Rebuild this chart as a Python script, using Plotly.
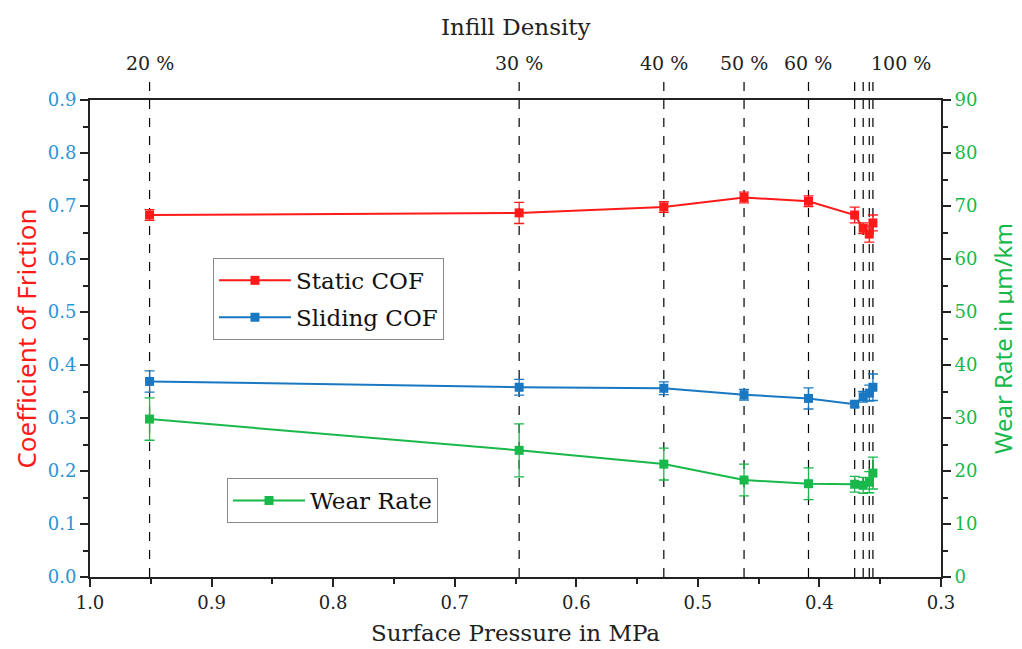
import plotly.graph_objects as go

# Data
density_labels = ["20 %", "30 %", "40 %", "50 %", "60 %", "70 %", "80 %", "90 %", "100 %"]
density_shown = [True, True, True, True, True, False, False, False, True]
pressure = [0.951, 0.647, 0.528, 0.462, 0.409, 0.371, 0.364, 0.359, 0.356]
static_cof = [0.683, 0.687, 0.698, 0.716, 0.709, 0.683, 0.658, 0.647, 0.668]
static_err = [0.010, 0.020, 0.010, 0.010, 0.010, 0.015, 0.010, 0.015, 0.015]
sliding_cof = [0.369, 0.358, 0.356, 0.344, 0.337, 0.326, 0.340, 0.347, 0.358]
sliding_err = [0.020, 0.015, 0.012, 0.010, 0.020, 0.005, 0.010, 0.015, 0.025]
wear_rate = [29.8, 23.9, 21.3, 18.3, 17.6, 17.5, 17.3, 17.9, 19.6]
wear_err = [4.0, 5.0, 3.0, 3.0, 3.0, 1.5, 1.5, 2.0, 3.0]

RED = "#ff1a1a"
BLUE = "#1a78c2"
GREEN = "#18b84a"
TICKBLUE = "#2a95d6"
SERIF = "DejaVu Serif"
SANS = "Noto Sans"

fig = go.Figure()

def add(name, y, err, color, yaxis, legend):
    fig.add_trace(go.Scatter(
        x=pressure, y=y, name=name, mode="lines+markers",
        line=dict(color=color, width=2),
        marker=dict(symbol="square", size=9, color=color),
        error_y=dict(type="data", array=err, visible=True, color=color,
                     thickness=1.3, width=5),
        yaxis=yaxis, legend=legend, legendgroup=name, xaxis="x",
    ))

add("Static COF", static_cof, static_err, RED, "y", "legend")
add("Sliding COF", sliding_cof, sliding_err, BLUE, "y", "legend")
add("Wear Rate", wear_rate, wear_err, GREEN, "y2", "legend2")

# dashed vertical lines
for p in pressure:
    fig.add_shape(type="line", xref="x", yref="paper", x0=p, x1=p, y0=0, y1=1.047,
                  line=dict(color="black", width=1.2, dash="dash"), layer="below")

# density labels
for lab, p, show in zip(density_labels, pressure, density_shown):
    if not show:
        continue
    last = lab == density_labels[-1]
    fig.add_annotation(x=p, xref="x", y=1, yref="paper", yshift=37,
                       text=lab, showarrow=False,
                       xanchor="left" if last else "center", xshift=-4 if last else 0,
                       yanchor="middle", font=dict(family=SERIF, size=19, color="#222"))

fig.add_annotation(x=0.5, xref="paper", y=1, yref="paper", yshift=73,
                   text="Infill Density", showarrow=False, yanchor="middle",
                   font=dict(family=SERIF, size=23, color="#222"))

axis_common = dict(showline=True, linecolor="#222", linewidth=2, ticks="outside",
                   ticklen=8, tickwidth=2, tickcolor="#222", showgrid=False, zeroline=False,
                   mirror=False, automargin=False)

fig.update_layout(
    width=1022, height=649,
    margin=dict(l=82, r=89, t=92, b=80),
    plot_bgcolor="white", paper_bgcolor="white",
    xaxis=dict(range=[1.0, 0.3], dtick=0.1, tickformat=".1f",
               minor=dict(ticks="outside", ticklen=5, tickwidth=2, tickcolor="#222", dtick=0.05),
               tickfont=dict(family=SERIF, size=18, color="#222"),
               title=dict(text="Surface Pressure in MPa", standoff=13,
                          font=dict(family=SERIF, size=23, color="#222")),
               **axis_common),
    xaxis2=dict(overlaying="x", side="top", range=[1.0, 0.3], showline=True,
                linecolor="#222", linewidth=2, showticklabels=False, ticks="",
                showgrid=False, zeroline=False),
    yaxis=dict(range=[0, 0.9], dtick=0.1, tickformat=".1f",
               minor=dict(ticks="outside", ticklen=5, tickwidth=2, tickcolor="#222", dtick=0.05),
               tickfont=dict(family=SERIF, size=18, color=TICKBLUE),
               title=dict(text="Coefficient of Friction", standoff=13,
                          font=dict(family=SANS, size=26, color=RED)),
               **axis_common),
    yaxis2=dict(overlaying="y", side="right", range=[0, 90], dtick=10,
                minor=dict(ticks="outside", ticklen=5, tickwidth=2, tickcolor="#222", dtick=5),
                tickfont=dict(family=SERIF, size=18, color=GREEN),
                title=dict(text="Wear Rate in μm/km", standoff=19,
                           font=dict(family=SANS, size=24, color=GREEN)),
                **axis_common),
    legend=dict(x=0.1445, y=0.669, xanchor="left", yanchor="top",
                bordercolor="#888", borderwidth=1, bgcolor="white",
                font=dict(family=SERIF, size=23, color="#111"),
                itemwidth=72, tracegroupgap=4, traceorder="grouped"),
    legend2=dict(x=0.161, y=0.2075, xanchor="left", yanchor="top",
                 bordercolor="#888", borderwidth=1, bgcolor="white",
                 font=dict(family=SERIF, size=23, color="#111"),
                 itemwidth=72),
)
# dummy trace on xaxis2 to show the top frame line
fig.add_trace(go.Scatter(x=[None], y=[None], xaxis="x2", showlegend=False, hoverinfo="skip"))

fig.write_html("out.html")
